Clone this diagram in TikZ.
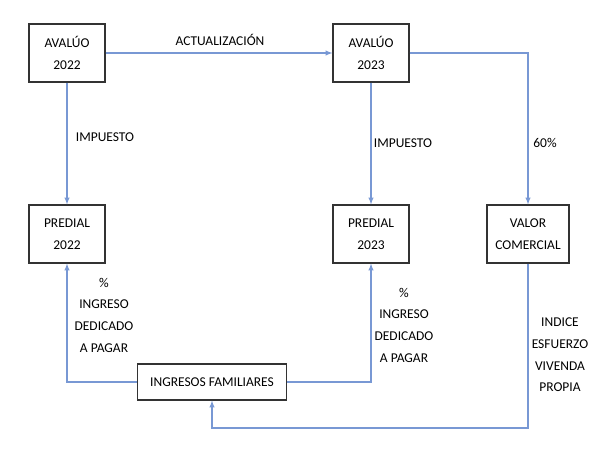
\documentclass[tikz,border=0pt]{standalone}
\usepackage{fontspec}
\setmainfont{Carlito}
\usetikzlibrary{arrows}
\definecolor{linea}{RGB}{120,152,212}

\begin{document}
\begin{tikzpicture}[>=latex,x=0.03cm,y=-0.03cm,
  every node/.style={font=\fontsize{11.5}{18.5}\selectfont,align=center},
  caja/.style={draw=black!80,line width=0.9pt,minimum width=2.28cm,minimum height=1.74cm,inner sep=1pt},
  flecha/.style={->,draw=linea,line width=1pt}]

\useasboundingbox (0,0) rectangle (600,454);

% Cajas
\node[caja] (a22) at (67,53) {AVALÚO\\2022};
\node[caja] (a23) at (371,53) {AVALÚO\\2023};
\node[caja] (p22) at (67,234) {PREDIAL\\2022};
\node[caja] (p23) at (371,234) {PREDIAL\\2023};
\node[caja,minimum width=2.46cm] (vc) at (528,234) {VALOR\\COMERCIAL};
\node[caja,minimum width=4.47cm,minimum height=1.08cm] (ing) at (212,382) {INGRESOS FAMILIARES};

% Flechas
\draw[flecha] (a22) -- (a23);
\draw[flecha] (a22) -- (p22);
\draw[flecha] (a23) -- (p23);
\draw[flecha] (a23.east) -| (vc.north);
\draw[flecha] (ing.west) -| (p22.south);
\draw[flecha] (ing.east) -| (p23.south);
\coordinate (esq) at (vc.south |- 0,428);
\draw[flecha] (vc.south) -- (esq) -| (ing.south);

% Rotulos
\node (act) at (220,40) {ACTUALIZACIÓN};
\node (imp1) at (105,137) {IMPUESTO};
\node (imp2) at (403,143) {IMPUESTO};
\node (pct) at (545,143) {60\%};
\node (ded1) at (104,315) {\%\\INGRESO\\DEDICADO\\A PAGAR};
\node (ded2) at (404,325) {\%\\INGRESO\\DEDICADO\\A PAGAR};
\node (ind) at (560,355) {INDICE\\ESFUERZO\\VIVENDA\\PROPIA};

\end{tikzpicture}
\end{document}
